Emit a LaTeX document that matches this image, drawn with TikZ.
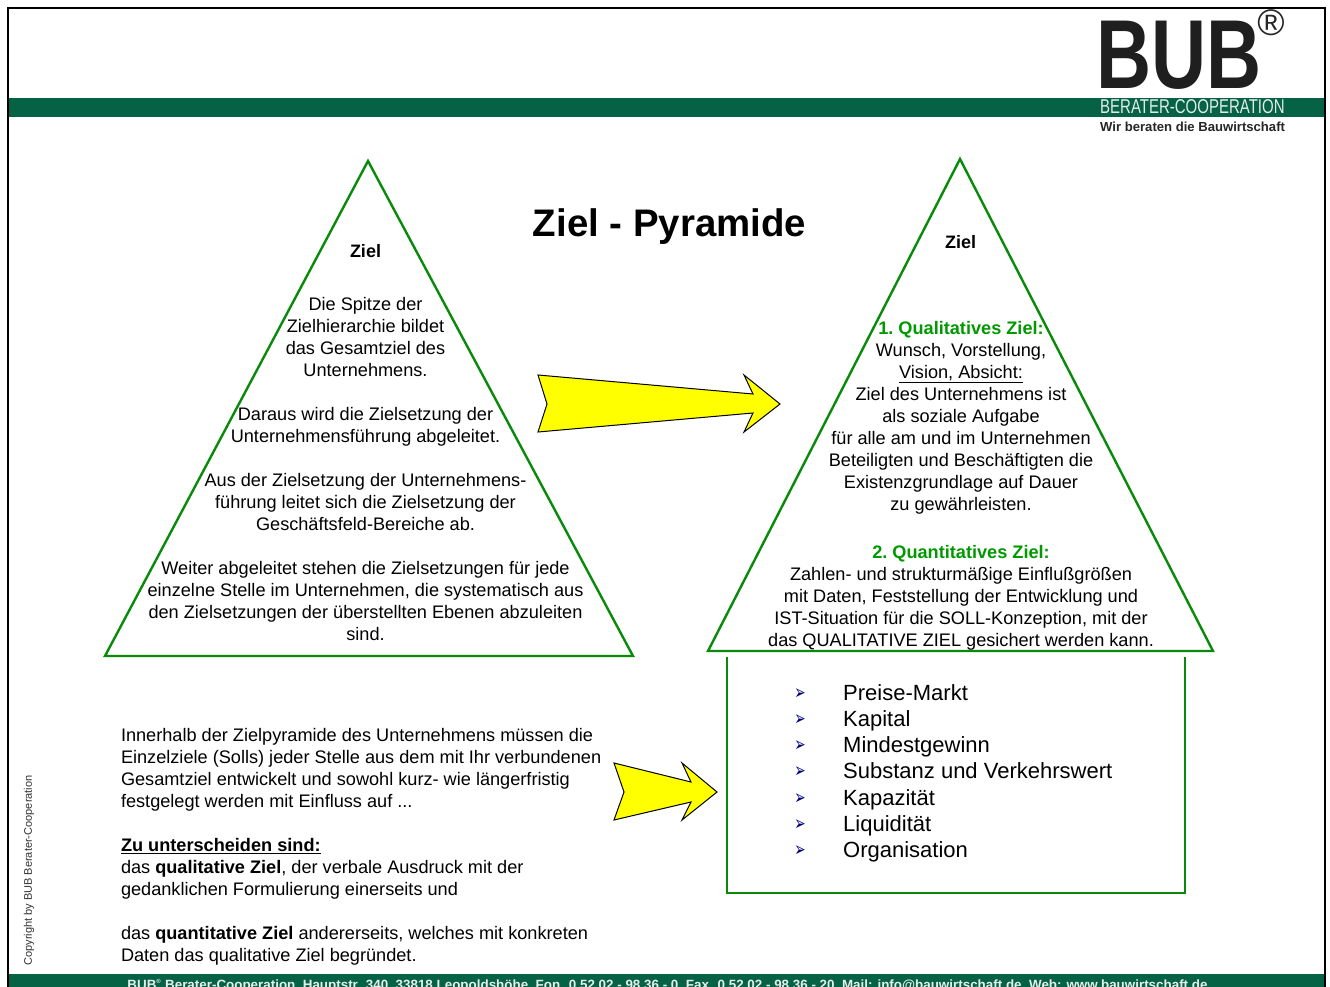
\documentclass[tikz,border=0pt]{standalone}
\usepackage{fontspec}
\setmainfont{Liberation Sans}
\newfontfamily\symfont{DejaVu Sans}
\definecolor{bandgreen}{HTML}{056244}
\definecolor{linegreen}{HTML}{0A8A0A}
\definecolor{headgreen}{HTML}{009A00}
\definecolor{bulletblue}{HTML}{000080}
\definecolor{arrowyellow}{RGB}{255,255,0}
\tikzset{
  zieltri/.style={draw=linegreen,line width=2.4pt,line join=miter,fill=none},
  yarrow/.style={draw=black,line width=1pt,fill=arrowyellow,line join=miter},
  band/.style={fill=bandgreen,draw=none},
  body/.style={inner sep=0pt,outer sep=0pt,font=\fontsize{18.15}{22}\selectfont\frenchspacing,align=center},
  bodyleft/.style={body,align=left,anchor=north west},
  boldlabel/.style={inner sep=0pt,font=\fontsize{18}{22}\selectfont\bfseries},
  listitem/.style={inner sep=0pt,anchor=base west,font=\fontsize{22}{26}\selectfont},
  bulletitem/.style={inner sep=0pt,anchor=center,text=bulletblue,yscale=1.5,font=\symfont\fontsize{13.5}{14}\selectfont}
}
\begin{document}
\begin{tikzpicture}[x=1pt,y=-1pt]
\useasboundingbox (0,0) rectangle (1330,987);
\fill[white] (0,0) rectangle (1330,987);
% frame
\draw[black,line width=2pt] (8,987) -- (8,8) -- (1325,8) -- (1325,987);
% bands
\fill[band] (9,98) rectangle (1324,117);
\fill[band] (9,974) rectangle (1324,987);
% logo
\node[inner sep=0pt,anchor=base west,font=\fontsize{98}{98}\selectfont\bfseries,xscale=0.778,text=black!88] (bub) at (1096,88.5) {BUB};
\node[inner sep=0pt,font=\fontsize{37}{37}\selectfont,text=black!85] (reg) at (1271,23) {®};
\node[inner sep=0pt,anchor=base west,font=\fontsize{20}{20}\selectfont,xscale=0.75,text=white!88!bandgreen] (cooperation) at (1100,114) {BERATER-COOPERATION};
\node[inner sep=0pt,anchor=base west,font=\fontsize{13.1}{13}\selectfont\bfseries,text=black!85] (claim) at (1100,132) {Wir beraten die Bauwirtschaft};
% title
\node[inner sep=0pt,font=\fontsize{38.4}{40}\selectfont\bfseries] (title) at (669.5,227) {Ziel - Pyramide};
% triangles
\coordinate (la) at (368,161); \coordinate (lb) at (105,656); \coordinate (lc) at (633,656);
\draw[zieltri] (la) -- (lb) -- (lc) -- cycle;
\coordinate (ra) at (960,159); \coordinate (rb) at (708,651); \coordinate (rc) at (1213,651);
\draw[zieltri] (ra) -- (rb) -- (rc) -- cycle;
% box
\coordinate (ba) at (727,657); \coordinate (bb) at (727,893); \coordinate (bc) at (1185,893); \coordinate (bd) at (1185,657);
\draw[linegreen,line width=2.4pt] (ba) -- (bb) -- (bc) -- (bd);
% arrows
\draw[yarrow] (538,375) -- (753,394) -- (744,375) -- (780,404) -- (744,432) -- (753,413) -- (538,432) -- (547,404) -- cycle;
\draw[yarrow] (614,763) -- (691,782) -- (682,763) -- (717,792) -- (682,820) -- (691,802) -- (614,820) -- (624,792) -- cycle;
% left triangle text
\node[boldlabel] (lziel) at (365.5,251) {Ziel};
\node[body] (ltext) at (365.5,469.5) {Die Spitze der\\Zielhierarchie bildet\\das Gesamtziel des\\Unternehmens.\\[22pt]Daraus wird die Zielsetzung der\\Unternehmensführung abgeleitet.\\[22pt]Aus der Zielsetzung der Unternehmens-\\führung leitet sich die Zielsetzung der\\Geschäftsfeld-Bereiche ab.\\[22pt]Weiter abgeleitet stehen die Zielsetzungen für jede\\einzelne Stelle im Unternehmen, die systematisch aus\\den Zielsetzungen der überstellten Ebenen abzuleiten\\sind.};
% right triangle text
\node[boldlabel] (rziel) at (960.5,242) {Ziel};
\node[body] (rtexta) at (961,418) {\textcolor{headgreen}{\bfseries 1. Qualitatives Ziel:}\\Wunsch, Vorstellung,\\\underline{Vision, Absicht:}\\Ziel des Unternehmens ist\\als soziale Aufgabe\\für alle am und im Unternehmen\\Beteiligten und Beschäftigten die\\Existenzgrundlage auf Dauer\\zu gewährleisten.};
\node[body] (rtextb) at (961,597.5) {\textcolor{headgreen}{\bfseries 2. Quantitatives Ziel:}\\Zahlen- und strukturmäßige Einflußgrößen\\mit Daten, Feststellung der Entwicklung und\\IST-Situation für die SOLL-Konzeption, mit der\\das QUALITATIVE ZIEL gesichert werden kann.};
% list
\foreach \n/\yy/\t in {a/693/Preise-Markt,b/719/Kapital,c/745/Mindestgewinn,d/771/Substanz und Verkehrswert,e/798/Kapazität,f/824/Liquidität,g/850/Organisation}{
  \node[bulletitem] (bul\n) at (800,\yy+1.5) {➢};
  \node[listitem] (item\n) at (843,\yy+7.5) {\t};
}
% lower left text
\node[bodyleft] (para) at (121,728.5) {Innerhalb der Zielpyramide des Unternehmens müssen die\\Einzelziele (Solls) jeder Stelle aus dem mit Ihr verbundenen\\Gesamtziel entwickelt und sowohl kurz- wie längerfristig\\festgelegt werden mit Einfluss auf ...\\[22pt]\textbf{\underline{Zu unterscheiden sind:}}\\das \textbf{qualitative Ziel}, der verbale Ausdruck mit der\\gedanklichen Formulierung einerseits und\\[22pt]das \textbf{quantitative Ziel} andererseits, welches mit konkreten\\Daten das qualitative Ziel begründet.};
% copyright
\node[inner sep=0pt,rotate=90,font=\fontsize{11}{12}\selectfont,text=black!80] (copy) at (29,870.5) {Copyright by BUB Berater-Cooperation};
% footer
\node[inner sep=0pt,anchor=base,font=\fontsize{13.4}{14}\selectfont\bfseries,text=white!90!bandgreen] (footer) at (667.5,989) {BUB\textsuperscript{\fontsize{6}{6}\selectfont ®} Berater-Cooperation, Hauptstr. 340, 33818 Leopoldshöhe, Fon. 0 52 02 - 98 36 - 0, Fax. 0 52 02 - 98 36 - 20, Mail: info@bauwirtschaft.de, Web: www.bauwirtschaft.de};
\end{tikzpicture}
\end{document}
